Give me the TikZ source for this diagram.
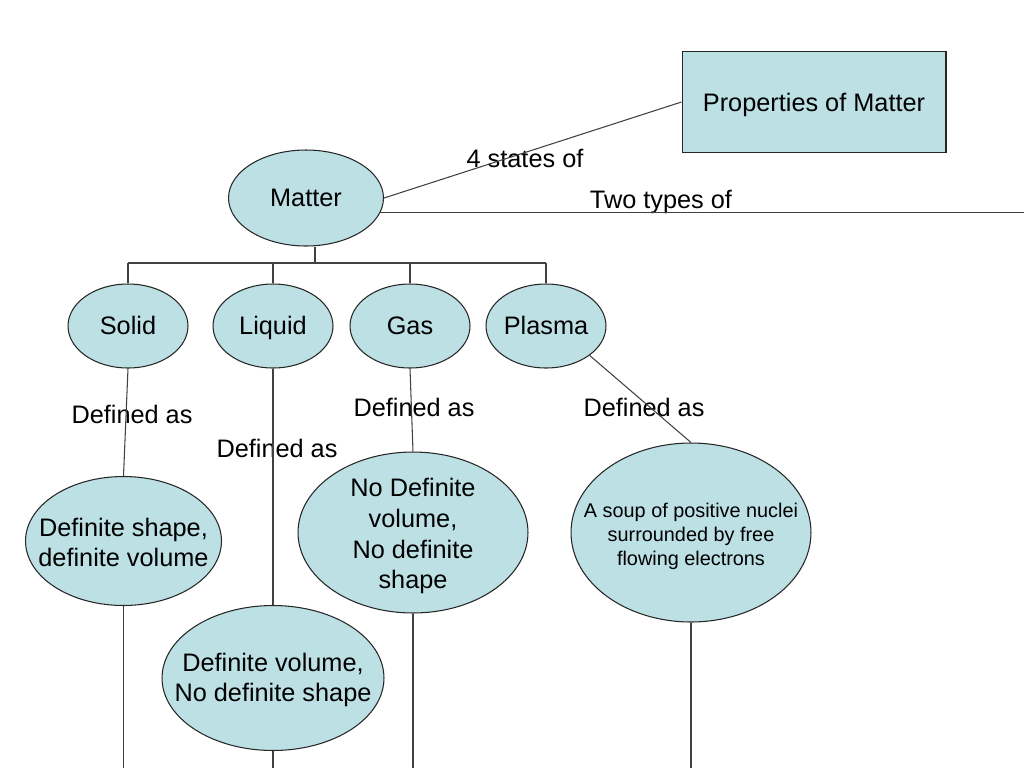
\documentclass[tikz,border=0pt]{standalone}
\usepackage{fontspec}
\setmainfont{Liberation Sans}
\usetikzlibrary{shapes.geometric}
\definecolor{statefill}{RGB}{188,224,228}

\begin{document}
\begin{tikzpicture}[x=0.02cm, y=-0.02cm, font=\fontsize{14.4}{17}\selectfont,
  blob/.style={ellipse, draw=black!85, fill=statefill, inner sep=0pt, line width=0.6pt},
  link/.style={draw=black!75, line width=0.6pt}]

\useasboundingbox (0,0) rectangle (1024,768);

\node[draw=black!85, fill=statefill, line width=0.6pt, minimum width=5.28cm, minimum height=2.02cm, text depth=0pt] (props) at (814,102) {Properties of Matter};

\node[blob, minimum width=3.1cm, minimum height=1.92cm] (matter) at (306,198) {Matter};

\node[blob, minimum width=2.4cm, minimum height=1.68cm, text height=2.2ex, text depth=0.4ex] (solid) at (128,326) {Solid};
\node[blob, minimum width=2.4cm, minimum height=1.68cm, text height=2.2ex, text depth=0.4ex] (liquid) at (273,326) {Liquid};
\node[blob, minimum width=2.4cm, minimum height=1.68cm, text height=2.2ex, text depth=0.4ex] (gas) at (410,326) {Gas};
\node[blob, minimum width=2.4cm, minimum height=1.68cm, text height=2.2ex, text depth=0.4ex] (plasma) at (546,326) {Plasma};

\node[blob, minimum width=3.92cm, minimum height=2.58cm, label={[align=center, yshift=-1pt]center:{Definite shape,\\definite volume}}] (defsolid) at (123.5,541) {};
\node[blob, minimum width=4.44cm, minimum height=2.9cm, label={[align=center, yshift=-1pt]center:{Definite volume,\\No definite shape}}] (defliquid) at (273,678) {};
\node[blob, minimum width=4.6cm, minimum height=3.22cm, label={[align=center, yshift=-2pt, font=\fontsize{14.4}{17.6}\selectfont]center:{No Definite\\volume,\\No definite\\shape}}] (defgas) at (413,532.5) {};
\node[blob, minimum width=4.8cm, minimum height=3.58cm, label={[align=center, yshift=-2pt, font=\fontsize{11.3}{13.7}\selectfont]center:{A soup of positive nuclei\\surrounded by free\\flowing electrons}}] (defplasma) at (691,532.5) {};

\node (statescap) at (525,158) {4 states of};
\node (typescap) at (661,202) {Two types of};
\node (solidcap) at (132,414) {Defined as};
\node (liquidcap) at (277,448) {Defined as};
\node (gascap) at (414,407) {Defined as};
\node (plasmacap) at (644,407) {Defined as};

\coordinate (rim) at (1024,213);
\coordinate (trunk) at (315,263);
\coordinate (floor) at (0,768);

\draw[link] (matter.east) -- (props.west);
\draw[link] (matter.-11.6) -- (matter.-11.6 -| rim);

\draw[link] (trunk |- matter.south) -- (trunk);
\draw[link] (solid.north |- trunk) -- (plasma.north |- trunk);
\foreach \s in {solid, liquid, gas, plasma}
  \draw[link] (\s.north |- trunk) -- (\s.north);

\draw[link] (solid.south) -- (defsolid.north);
\draw[link] (liquid.south) -- (defliquid.north);
\draw[link] (gas.south) -- (defgas.north);
\draw[link] (plasma.-34) -- (defplasma.north);

\foreach \s in {defsolid, defliquid, defgas, defplasma}
  \draw[link] (\s.south) -- (\s.south |- floor);

\end{tikzpicture}
\end{document}
